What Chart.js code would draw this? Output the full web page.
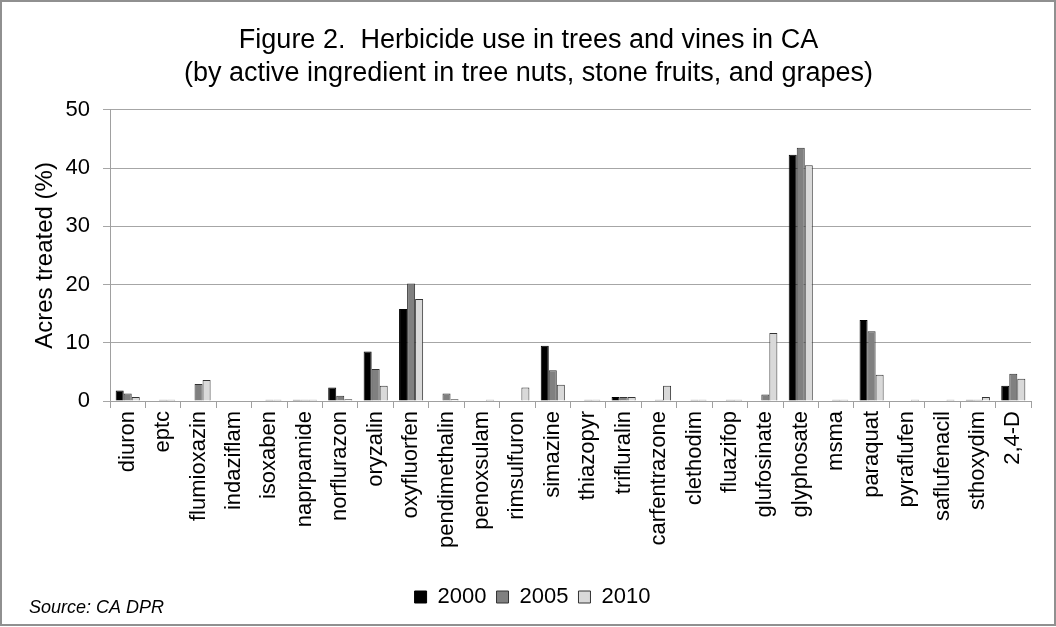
<!DOCTYPE html>
<html>
<head>
<meta charset="utf-8">
<script src="https://cdn.jsdelivr.net/npm/chart.js@4.4.1/dist/chart.umd.min.js"></script>
<style>
  html, body { margin: 0; padding: 0; background: #fff; }
  #wrap { position: absolute; left: 0; top: 0; width: 1052px; height: 622px; border: 2px solid #909090; }
</style>
</head>
<body>
<div id="wrap"><canvas id="myChart" width="1052" height="622"></canvas></div>
<script>
// herbicide names along the x axis
const ingredients = ["diuron", "eptc", "flumioxazin", "indaziflam", "isoxaben", "naprpamide",
  "norflurazon", "oryzalin", "oxyfluorfen", "pendimethalin", "penoxsulam", "rimsulfuron",
  "simazine", "thiazopyr", "trifluralin", "carfentrazone", "clethodim", "fluazifop",
  "glufosinate", "glyphosate", "msma", "paraquat", "pyraflufen", "saflufenacil", "sthoxydim", "2,4-D"];

// acres treated (%)
const use2000 = [1.8, 0, 0, 0, 0, 0.2, 2.3, 8.5, 15.8, 0, 0, 0, 9.5, 0, 0.7, 0, 0, 0, 0, 42.3, 0, 13.9, 0, 0, 0.2, 2.6];
const use2005 = [1.3, 0.2, 2.9, 0, 0.2, 0.2, 0.9, 5.5, 20.2, 1.3, 0, 0, 5.3, 0.2, 0.7, 0.2, 0.2, 0.2, 1.1, 43.5, 0.2, 12.0, 0, 0, 0.2, 4.7];
const use2010 = [0.7, 0.2, 3.6, 0, 0.2, 0.2, 0.3, 2.6, 17.5, 0.3, 0.2, 2.3, 2.8, 0.2, 0.7, 2.6, 0.2, 0.2, 11.7, 40.5, 0.2, 4.5, 0.2, 0.2, 0.7, 3.8];

const yTicks = [0, 10, 20, 30, 40, 50];

const font = "'Liberation Sans', Arial, sans-serif";
Chart.defaults.font.family = font;
Chart.defaults.color = '#000';

// "Source: CA DPR" note in the lower left corner, and nudge title and legend
// a bit right so they sit under the middle of the whole frame
const sourceNote = {
  id: 'sourceNote',
  afterLayout(chart) {
    chart.legend.left += 16;
    chart.legend.right += 16;
    chart.titleBlock.left += 12;
    chart.titleBlock.right += 12;
  },
  afterDraw(chart) {
    const c = chart.ctx;
    c.save();
    c.font = "italic 18px " + font;
    c.fillStyle = '#000';
    c.textBaseline = 'middle';
    c.fillText('Source: CA DPR', 27, 606);
    c.restore();
  }
};

const ctx = document.getElementById('myChart').getContext('2d');
const chart = new Chart(ctx, {
  type: 'bar',
  data: {
    labels: ingredients,
    datasets: [
      { label: '2000', data: use2000, backgroundColor: '#000000', borderColor: '#000000', borderWidth: 1 },
      { label: '2005', data: use2005, backgroundColor: '#808080', borderColor: '#333333', borderWidth: 1 },
      { label: '2010', data: use2010, backgroundColor: '#d9d9d9', borderColor: '#333333', borderWidth: 1 },
    ],
  },
  options: {
    responsive: false,
    animation: false,
    categoryPercentage: 0.68,
    barPercentage: 1.0,
    layout: { padding: { left: 0, right: 23, top: 0, bottom: 6 } },
    plugins: {
      title: {
        display: true,
        text: ['Figure 2.  Herbicide use in trees and vines in CA',
               '(by active ingredient in tree nuts, stone fruits, and grapes)'],
        font: { size: 27, weight: 'normal', lineHeight: 1.22 },
        color: '#000',
        padding: { top: 22, bottom: 20 },
      },
      legend: {
        position: 'bottom',
        labels: {
          boxWidth: 12,
          boxHeight: 12,
          padding: 10,
          font: { size: 22 },
          color: '#000',
          generateLabels(ch) {
            return ch.data.datasets.map((ds, i) => ({
              text: ds.label,
              fillStyle: ds.backgroundColor,
              strokeStyle: ds.borderColor,
              lineWidth: 1,
              datasetIndex: i,
            }));
          },
        },
      },
      tooltip: { enabled: false },
    },
    scales: {
      x: {
        afterFit(scale) { scale.height = 175; },
        grid: { offset: true, drawOnChartArea: false, drawTicks: true, tickLength: 7, color: '#a0a0a0' },
        border: { color: '#a0a0a0' },
        ticks: { minRotation: 90, maxRotation: 90, autoSkip: false, padding: 3, font: { size: 22 }, color: '#000' },
      },
      y: {
        min: 0,
        max: 50,
        afterFit(scale) { scale.width = 108; },
        afterBuildTicks(scale) { scale.ticks = yTicks.map(v => ({ value: v })); },
        grid: { color: '#a6a6a6', tickLength: 7 },
        border: { color: '#a0a0a0' },
        ticks: { padding: 13, font: { size: 22 }, color: '#000' },
        title: {
          display: true,
          text: 'Acres treated (%)',
          font: { size: 24 },
          color: '#000',
          padding: { top: 29, bottom: 0 },
        },
      },
    },
  },
  plugins: [sourceNote],
});
</script>
</body>
</html>
